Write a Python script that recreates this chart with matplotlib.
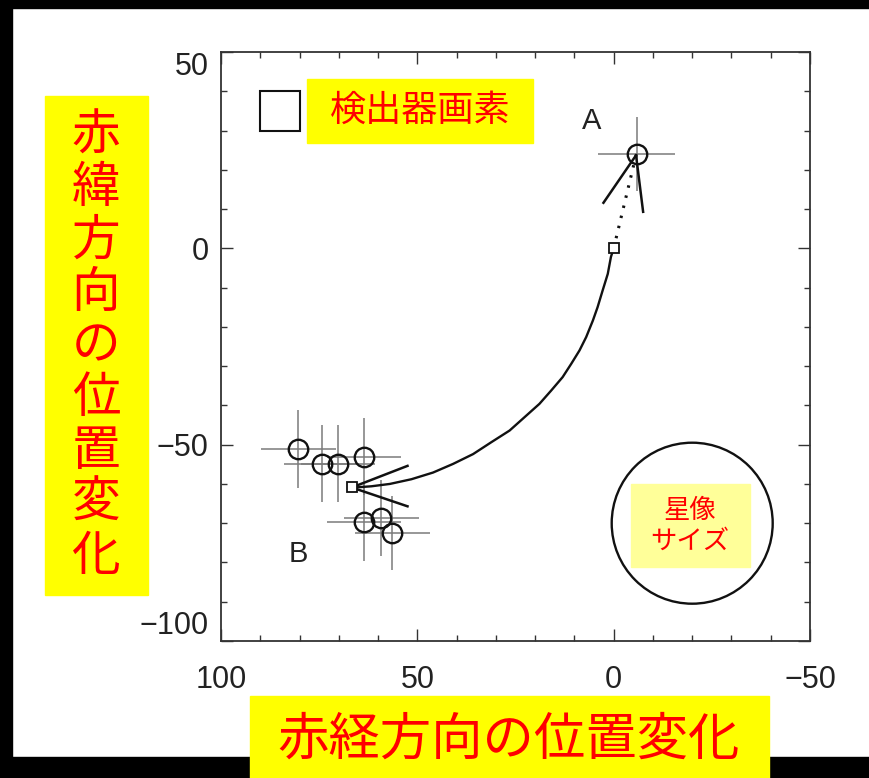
import matplotlib
matplotlib.use('Agg')
import matplotlib.pyplot as plt
from matplotlib.patches import Rectangle, Circle

# star A (single position) and star B (cluster of positions)
a_x = [-5.9]
a_y = [24.0]
a_xerr = [9.8]
a_yerr = [9.4]

b_x = [80.3, 74.4, 70.2, 63.6, 63.6, 59.2, 56.4]
b_y = [-51.1, -54.8, -54.9, -53.1, -69.8, -68.7, -72.5]
b_xerr = [9.5, 9.5, 9.5, 9.5, 9.5, 9.5, 9.5]
b_yerr = [9.9, 9.8, 9.8, 9.8, 9.8, 9.7, 9.5]

# predicted track from the origin to B
curve_x = [0, 0.7, 1.5, 2.8, 4.1, 5.3, 7.0, 8.7, 10.8, 13.0, 15.9, 18.9, 22.7,
           26.5, 31.2, 35.8, 40.9, 46.0, 51.5, 57.0, 61.7, 65.9, 66.7]
curve_y = [0, -2.2, -6.5, -10.7, -15.0, -18.4, -22.6, -26.0, -29.4, -32.8, -36.2,
           -39.6, -43.0, -46.4, -49.4, -52.4, -54.9, -57.1, -58.8, -60.0, -60.6,
           -60.9, -60.9]

# dotted link from the origin to A
dot_x = [0, -5.7]
dot_y = [0, 23.7]

# whiskers at A and at B
wa_x = [[-5.7, 2.6], [-5.7, -7.5]]
wa_y = [[23.7, 11.6], [23.7, 9.3]]
wb_x = [[66.7, 52.5], [66.7, 52.5]]
wb_y = [[-60.9, -55.4], [-60.9, -65.7]]

# end squares
sq_x = [0, 66.7]
sq_y = [0, -60.9]

# detector pixel and star image size
pix_x, pix_y, pix_size = 80, 30, 10
psf_x, psf_y, psf_r = -20, -70, 20.5

xlabel_text = '赤経方向の位置変化'
ylabel_text = '赤緯方向の位置変化'
W, H = 870, 778
jp = ['Noto Sans CJK JP', 'DejaVu Sans']


def fx(px):
    return px / W


def fy(py):
    return 1 - py / H


fig = plt.figure(figsize=(8.7, 7.78), dpi=100)
fig.patch.set_facecolor('white')

ax = fig.add_axes([fx(221), fy(641), 589 / W, 589 / H])
ax.set_xlim(100, -50)
ax.set_ylim(-100, 50)

ax.errorbar(a_x + b_x, a_y + b_y, xerr=a_xerr + b_xerr, yerr=a_yerr + b_yerr,
            fmt='none', ecolor='#7a7a7a', elinewidth=1.1, capsize=0, zorder=2)
ax.plot(a_x + b_x, a_y + b_y, 'o', ms=14, mfc='none', mec='#111111', mew=1.7, zorder=3)

ax.plot(curve_x, curve_y, color='#111111', lw=1.7, zorder=3,
        solid_joinstyle='round')
ax.plot(dot_x, dot_y, color='#111111', lw=2.2, dashes=(0.8, 2.6), zorder=3)
for xs, ys in zip(wa_x + wb_x, wa_y + wb_y):
    ax.plot(xs, ys, color='#111111', lw=1.8, zorder=3)
ax.plot(sq_x, sq_y, 's', ms=6.5, mfc='white', mec='#111111', mew=1.3, zorder=4)

ax.add_patch(Rectangle((pix_x, pix_y), pix_size, pix_size, fill=False,
                       ec='#111111', lw=1.5))
ax.add_patch(Circle((psf_x, psf_y), psf_r, fill=False, ec='#111111', lw=1.7))

ax.text(5.6, 32.4, 'A', fontsize=21, family='Liberation Sans', color='#222222',
        ha='center', va='center')
ax.text(80.4, -77.8, 'B', fontsize=21, family='Liberation Sans', color='#222222',
        ha='center', va='center')

ax.set_xticks([100, 50, 0, -50])
ax.set_xticks(range(-50, 101, 10), minor=True)
ax.set_yticks([-100, -50, 0, 50])
ax.set_yticks(range(-100, 51, 10), minor=True)
ax.tick_params(which='both', direction='in', top=True, right=True,
               width=1.0, color='#333333', labelcolor='#222222')
ax.tick_params(which='major', length=8.5)
ax.tick_params(which='minor', length=4.5)
ax.tick_params(axis='x', pad=17, labelsize=22)
ax.tick_params(axis='y', pad=9, labelsize=22)
for lab in ax.get_xticklabels() + ax.get_yticklabels():
    lab.set_family('Liberation Sans')
ylabs = ax.get_yticklabels()
ylabs[0].set_va('bottom')
ylabs[-1].set_va('top')
for s in ax.spines.values():
    s.set_color('#333333')
    s.set_linewidth(1.3)

# black frame round the picture
for r in [(0, 0, fx(12), 1), (0, fy(8), 1, 8 / H), (0, 0, 1, (H - 757) / H)]:
    fig.add_artist(Rectangle(r[:2], r[2], r[3], transform=fig.transFigure,
                             color='black', zorder=1))

# yellow label boxes
boxes = [(250, 696, 769, 778, '#ffff00'), (45, 96, 148, 595, '#ffff00'),
         (307, 79, 533, 143, '#ffff00'), (631, 484, 750, 567, '#ffff99')]
for x0, y0, x1, y1, c in boxes:
    fig.add_artist(Rectangle((fx(x0), fy(y1)), (x1 - x0) / W, (y1 - y0) / H,
                             transform=fig.transFigure, color=c, zorder=2))

fig.text(fx(509), fy(740), xlabel_text, family=jp, fontsize=37, color='red',
         ha='center', va='center', zorder=3)
for i, ch in enumerate(ylabel_text):
    fig.text(fx(96), fy(136 + i * 52.5), ch, family=jp, fontsize=35, color='red',
             ha='center', va='center', zorder=3)
fig.text(fx(420), fy(111), '検出器画素', family=jp, fontsize=26, color='red',
         ha='center', va='center', zorder=3)
fig.text(fx(690), fy(526), '星像\nサイズ', family=jp, fontsize=19, color='red',
         ha='center', va='center', linespacing=1.15, zorder=3)

fig.savefig('out.png', dpi=100)
